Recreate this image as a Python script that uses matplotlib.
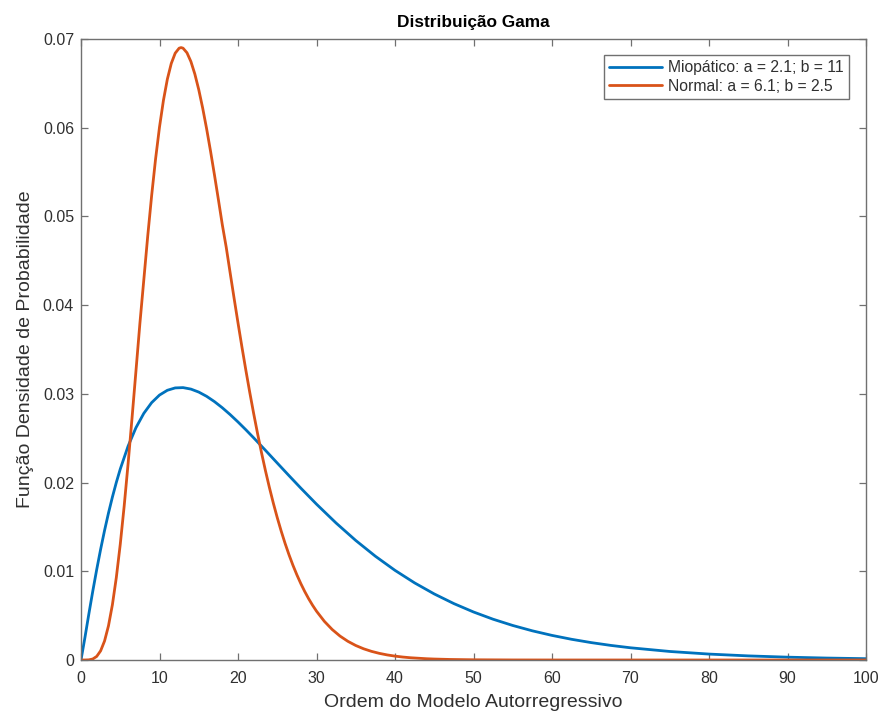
import matplotlib
matplotlib.use("Agg")
import matplotlib.pyplot as plt

# Values
x_miopatico = [0, 0.5, 1, 1.5, 2, 2.5, 3, 3.5, 4, 4.5, 5, 6, 7, 8, 9, 10, 11, 12, 13, 14, 15, 16, 17,
               18, 19, 20, 21, 22, 23.5, 25, 26.5, 28, 30, 32.5, 35, 37.5, 40, 42.5, 45, 47.5, 50,
               52.5, 55, 57.5, 60, 62.5, 65, 67.5, 70, 75, 80, 85, 90, 95, 100]
y_miopatico = [0, 0.002528, 0.005188, 0.007760, 0.010195, 0.012477, 0.014599, 0.016561, 0.018366,
               0.020017, 0.021520, 0.024109, 0.026185, 0.027802, 0.029012, 0.029864, 0.030403,
               0.030670, 0.030704, 0.030537, 0.030201, 0.029723, 0.029126, 0.028434, 0.027663,
               0.026831, 0.025953, 0.025040, 0.023632, 0.022203, 0.020778, 0.019376, 0.017567,
               0.015436, 0.013474, 0.011697, 0.010104, 0.008690, 0.007446, 0.006358, 0.005413,
               0.004595, 0.003892, 0.003288, 0.002773, 0.002333, 0.001960, 0.001644, 0.001377,
               0.000962, 0.000668, 0.000463, 0.000319, 0.000219, 0.000150]

x_normal = [0, 0.5, 1, 1.5, 2, 2.5, 3, 3.5, 4, 4.5, 5, 5.5, 6, 6.5, 7, 7.5, 8, 8.5, 9, 9.5, 10,
            10.5, 11, 11.5, 12, 12.5, 12.75, 13, 13.5, 14, 14.5, 15, 15.5, 16, 16.5, 17, 17.5, 18,
            18.5, 19, 19.5, 20, 20.5, 21, 21.5, 22, 22.5, 23, 23.5, 24, 24.5, 25, 25.5, 26, 26.5,
            27, 27.5, 28, 28.5, 29, 29.5, 30, 31, 32, 33, 34, 35, 36, 37, 38, 39, 40, 41, 42, 44,
            45, 47, 50, 55, 60, 70, 80, 90, 100]
y_normal = [0, 0.0000006, 0.0000176, 0.000114, 0.000404, 0.001033, 0.002143, 0.003851, 0.006231,
            0.009301, 0.013034, 0.017350, 0.022139, 0.027264, 0.032573, 0.037916, 0.042841,
            0.047783, 0.052359, 0.056479, 0.060071, 0.063076, 0.065470, 0.067243, 0.068401,
            0.068964, 0.069032, 0.068965, 0.068447, 0.067460, 0.066056, 0.064291, 0.062216,
            0.059892, 0.057365, 0.054689, 0.051910, 0.049070, 0.046525, 0.043641, 0.040791,
            0.038000, 0.035287, 0.032669, 0.030157, 0.027762, 0.025491, 0.023345, 0.021329,
            0.019443, 0.017683, 0.016049, 0.014536, 0.013140, 0.011856, 0.010677, 0.009600,
            0.008616, 0.007721, 0.006907, 0.006170, 0.005504, 0.004360, 0.003437, 0.002695,
            0.002104, 0.001635, 0.001265, 0.000975, 0.000749, 0.000573, 0.000437, 0.000332,
            0.000252, 0.000144, 0.000108, 0.0000605, 0.000025, 0.0000055, 0.0000012, 0, 0, 0, 0]

labels = ["Miopático: a = 2.1; b = 11", "Normal: a = 6.1; b = 2.5"]
colors = ["#0072BD", "#D95319"]
x_ticks = [0, 10, 20, 30, 40, 50, 60, 70, 80, 90, 100]
y_ticks = [0, 0.01, 0.02, 0.03, 0.04, 0.05, 0.06, 0.07]
y_tick_labels = ["0", "0.01", "0.02", "0.03", "0.04", "0.05", "0.06", "0.07"]

plt.rcParams['font.family'] = ['Liberation Sans', 'DejaVu Sans']
text_color = "#303030"
spine_color = "#707070"

fig = plt.figure(figsize=(8.83, 7.11), dpi=100)
ax = fig.add_axes([81/883, 1 - 660/711, (866 - 81)/883, (660 - 39)/711])

ax.plot(x_miopatico, y_miopatico, color=colors[0], lw=2.0, label=labels[0],
        solid_joinstyle='round', solid_capstyle='round')
ax.plot(x_normal, y_normal, color=colors[1], lw=2.0, label=labels[1],
        solid_joinstyle='round', solid_capstyle='round')

ax.set_xlim(0, 100)
ax.set_ylim(0, 0.07)
ax.set_xticks(x_ticks)
ax.set_xticklabels([str(t) for t in x_ticks])
ax.set_yticks(y_ticks)
ax.set_yticklabels(y_tick_labels)

for s in ax.spines.values():
    s.set_color(spine_color)
    s.set_linewidth(1.0)
ax.tick_params(direction='in', length=5, width=0.9, color=spine_color,
               labelsize=11.5, labelcolor=text_color, top=True, right=True)
ax.tick_params(axis='x', pad=8)
ax.tick_params(axis='y', pad=5)

ax.set_title("Distribuição Gama", fontsize=12.4, fontweight='bold', color="#000000", pad=9)
ax.set_xlabel("Ordem do Modelo Autorregressivo", fontsize=14, color=text_color, labelpad=6)
ax.set_ylabel("Função Densidade de Probabilidade", fontsize=14, color=text_color, labelpad=6)

leg = ax.legend(loc='upper right', bbox_to_anchor=((849 - 81)/785, (660 - 55)/621),
                borderaxespad=0, fontsize=11.3, fancybox=False, handlelength=3.4,
                handletextpad=0.35, borderpad=0.35, labelspacing=0.2, framealpha=1)
leg.get_frame().set_edgecolor(spine_color)
leg.get_frame().set_linewidth(1.0)
for t in leg.get_texts():
    t.set_color(text_color)

fig.savefig("out.png", dpi=100)
